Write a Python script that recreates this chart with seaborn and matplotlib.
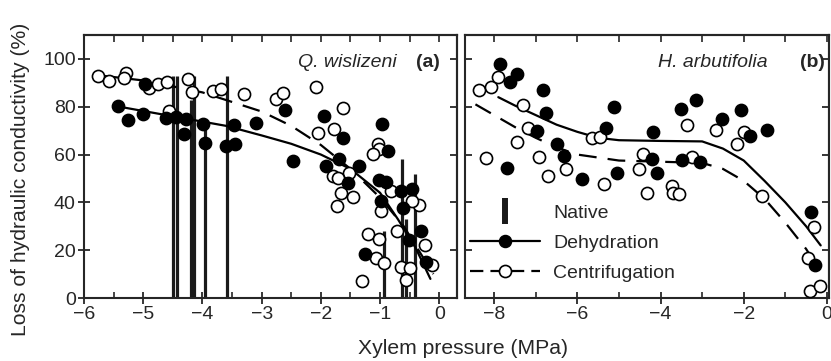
import matplotlib
matplotlib.use("Agg")
import matplotlib.pyplot as plt
from matplotlib.lines import Line2D
from matplotlib.ticker import MultipleLocator, NullFormatter
import seaborn as sns

# ---------------- data ----------------
# Q. wislizeni (a)
qw_dehy_x = [-5.42, -5.25, -5.01, -4.97, -4.61, -4.44, -4.28, -4.31, -3.99, -3.95, -3.60, -3.45,
             -3.47, -3.09, -2.60, -2.47, -1.95, -1.62, -1.92, -1.69, -1.35, -0.96, -0.87, -1.55,
             -1.02, -0.90, -0.98, -0.61, -0.46, -0.65, -0.31, -0.51, -1.25, -0.23]
qw_dehy_y = [80.4, 74.4, 76.8, 89.5, 75.1, 75.9, 74.8, 68.5, 72.9, 65.0, 63.6, 64.3,
             72.3, 73.4, 78.7, 57.3, 76.2, 67.1, 55.2, 58.0, 55.2, 72.7, 61.5, 48.2,
             49.3, 48.5, 40.5, 37.7, 45.7, 44.7, 27.9, 24.4, 18.3, 14.9]
qw_cent_x = [-5.76, -5.57, -5.29, -5.33, -4.90, -4.75, -4.60, -4.56, -4.25, -4.17, -3.82, -3.68,
             -3.29, -2.75, -2.64, -2.09, -1.62, -2.05, -1.77, -1.04, -1.01, -1.12, -1.80, -1.53,
             -1.71, -1.66, -1.73, -1.45, -0.81, -0.98, -0.34, -0.46, -1.21, -1.01, -1.07, -0.94,
             -1.30, -0.72, -0.65, -0.49, -0.56, -0.24, -0.12]
qw_cent_y = [93.0, 90.9, 94.1, 91.9, 87.7, 89.5, 90.2, 78.3, 91.6, 86.3, 86.7, 87.4,
             85.3, 83.2, 85.7, 88.1, 79.3, 68.9, 70.6, 64.3, 62.2, 60.1, 51.0, 52.1,
             50.3, 44.0, 38.4, 42.3, 44.8, 36.3, 39.1, 40.5, 26.9, 24.6, 16.9, 14.6,
             7.3, 28.2, 12.9, 12.5, 7.6, 22.3, 13.9]
qw_nat_x = [-4.50, -4.43, -4.20, -4.14, -3.95, -3.58, -0.93, -0.63, -0.57, -0.41]
qw_nat_y = [93, 93, 83, 93, 72, 93, 28, 58, 33, 52]
qw_dehy_fit_x = [-5.4, -4.5, -3.6, -3.0, -2.5, -2.0, -1.5, -1.0, -0.7, -0.4, -0.15]
qw_dehy_fit_y = [80, 76, 72, 68, 64.5, 60, 54, 44, 33, 21, 8]
qw_cent_fit_x = [-5.7, -5.0, -4.5, -4.0, -3.5, -3.0, -2.5, -2.0, -1.5, -1.0, -0.6, -0.3, -0.1]
qw_cent_fit_y = [93, 91, 88.5, 86, 82, 78, 72, 64, 54, 42, 30, 18, 10]

# H. arbutifolia (b)
ha_dehy_x = [-7.87, -7.62, -7.44, -6.83, -6.75, -5.13, -5.32, -6.97, -6.49, -6.31, -7.70, -5.89,
             -5.04, -4.17, -4.21, -4.09, -3.51, -3.15, -2.53, -2.07, -1.85, -1.45, -3.49, -3.05,
             -0.39, -0.29]
ha_dehy_y = [97.9, 90.2, 93.7, 87.1, 77.3, 79.7, 71.0, 69.9, 64.6, 59.4, 54.5, 49.6,
             52.1, 69.5, 58.3, 52.4, 79.0, 82.8, 74.8, 78.6, 67.8, 70.2, 57.6, 56.9,
             35.9, 13.9]
ha_cent_x = [-8.36, -8.08, -7.90, -7.30, -7.18, -7.44, -8.19, -6.91, -6.71, -6.28, -5.64, -5.45,
             -5.35, -4.43, -4.51, -4.32, -3.37, -2.67, -2.00, -2.17, -3.25, -3.73, -3.70, -3.55,
             -1.55, -0.31, -0.45, -0.41, -0.17]
ha_cent_y = [87.1, 88.1, 92.6, 80.7, 70.9, 65.3, 58.7, 58.9, 51.0, 53.8, 67.1, 67.5,
             47.5, 60.4, 54.1, 44.0, 72.3, 70.3, 69.5, 64.3, 59.1, 46.8, 44.0, 43.3,
             42.6, 29.7, 16.7, 3.1, 5.2]
ha_dehy_fit_x = [-7.9, -7.5, -7.0, -6.5, -6.0, -5.5, -5.0, -4.0, -3.0, -2.5, -2.0, -1.5, -1.0, -0.5, -0.15]
ha_dehy_fit_y = [84, 80.5, 76.5, 72.5, 69.5, 67, 66, 65.7, 65.5, 62.5, 57.5, 49, 40, 30, 22]
ha_cent_fit_x = [-8.45, -8.0, -7.5, -7.0, -6.5, -6.0, -5.0, -4.0, -3.0, -2.5, -2.0, -1.5, -1.0, -0.5, -0.3]
ha_cent_fit_y = [81, 76.5, 71.5, 67, 63, 60, 57.5, 57, 56.5, 54, 49, 41.5, 31.5, 20.5, 15]

panel_titles = ["Q. wislizeni", "H. arbutifolia"]
panel_letters = ["(a)", "(b)"]
legend_labels = ["Native", "Dehydration", "Centrifugation"]
xlabel = "Xylem pressure (MPa)"
ylabel = "Loss of hydraulic conductivity (%)"

# ---------------- style ----------------
sns.set_style("ticks")
plt.rcParams["font.family"] = ["Liberation Sans", "DejaVu Sans"]
plt.rcParams["axes.linewidth"] = 1.5
FS = 14
FSL = 15.2

fig = plt.figure(figsize=(8.31, 3.61), dpi=100)
axL = fig.add_axes([0.1011, 0.1745, 0.4489, 0.7285])
axR = fig.add_axes([0.5596, 0.1745, 0.4380, 0.7285])

DASH = (0, (8, 5))
MS = 76
EW = 1.2


def draw_panel(ax, dx, dy, cx, cy, nx, ny, dfx, dfy, cfx, cfy):
    if nx:
        ax.vlines(nx, 0, ny, color="#1a1a1a", lw=2.3, zorder=2)
    sns.lineplot(x=dfx, y=dfy, ax=ax, color="black", lw=1.6, sort=False,
                 estimator=None, zorder=3)
    sns.lineplot(x=cfx, y=cfy, ax=ax, color="black", lw=1.6, sort=False,
                 estimator=None, linestyle=DASH, zorder=3)
    sns.scatterplot(x=cx, y=cy, ax=ax, color="white", edgecolor="black",
                    linewidth=EW, s=MS, zorder=4)
    sns.scatterplot(x=dx, y=dy, ax=ax, color="black", edgecolor="black",
                    linewidth=EW, s=MS, zorder=4)


draw_panel(axL, qw_dehy_x, qw_dehy_y, qw_cent_x, qw_cent_y, qw_nat_x, qw_nat_y,
           qw_dehy_fit_x, qw_dehy_fit_y, qw_cent_fit_x, qw_cent_fit_y)
draw_panel(axR, ha_dehy_x, ha_dehy_y, ha_cent_x, ha_cent_y, [], [],
           ha_dehy_fit_x, ha_dehy_fit_y, ha_cent_fit_x, ha_cent_fit_y)

# ---------------- axes ----------------
for ax in (axL, axR):
    ax.set_ylim(0, 110)
    ax.set_xlabel("")
    ax.set_ylabel("")
    for s in ax.spines.values():
        s.set_visible(True)
        s.set_linewidth(1.5)
    ax.set_yticks([0, 20, 40, 60, 80, 100])

axL.set_xlim(-6, 0.3)
axL.xaxis.set_major_locator(MultipleLocator(1))
axL.xaxis.set_minor_locator(MultipleLocator(0.5))
axR.set_xlim(-8.7, 0.05)
axR.xaxis.set_major_locator(MultipleLocator(2))
axR.xaxis.set_minor_locator(MultipleLocator(1))

for ax in (axL, axR):
    ax.tick_params(axis="x", which="major", direction="inout", length=9, width=1.3,
                   labelsize=FS, pad=1, top=False)
    ax.tick_params(axis="x", which="minor", direction="in", length=4, width=1.2, top=False)
    ax.xaxis.set_major_formatter(plt.FuncFormatter(lambda v, p: f"{v:g}".replace("-", "\u2212")))

axL.tick_params(axis="y", which="major", direction="inout", length=9, width=1.3,
                labelsize=FS, pad=1.5, right=False)
axR.tick_params(axis="y", which="major", direction="in", length=5, width=1.3,
                labelleft=False, right=False)

# top and right inward ticks
for ax, step in ((axL, 0.5), (axR, 1.0)):
    top = ax.secondary_xaxis("top")
    top.xaxis.set_major_locator(MultipleLocator(step))
    top.tick_params(direction="in", length=5, width=1.2, labeltop=False)
    top.xaxis.set_major_formatter(NullFormatter())
    top.spines["top"].set_linewidth(1.5)
    rt = ax.secondary_yaxis("right")
    rt.set_yticks([0, 20, 40, 60, 80, 100])
    rt.tick_params(direction="in", length=5, width=1.3, labelright=False)
    rt.yaxis.set_major_formatter(NullFormatter())
    rt.spines["right"].set_linewidth(1.5)

# panel titles
axL.text(0.839, 0.897, panel_titles[0], transform=axL.transAxes, ha="right", va="center",
         fontsize=FS, style="italic")
axL.text(0.954, 0.897, panel_letters[0], transform=axL.transAxes, ha="right", va="center",
         fontsize=FS, fontweight="bold")
axR.text(0.830, 0.897, panel_titles[1], transform=axR.transAxes, ha="right", va="center",
         fontsize=FS, style="italic")
axR.text(0.989, 0.897, panel_letters[1], transform=axR.transAxes, ha="right", va="center",
         fontsize=FS, fontweight="bold")

# labels
axL.set_ylabel(ylabel, fontsize=FSL)
axL.yaxis.set_label_coords(-0.145, 0.45)
fig.text(0.557, 0.036, xlabel, ha="center", va="center", fontsize=FSL)

# legend
handles = [
    Line2D([], [], color="#1a1a1a", lw=0, marker="|", markersize=19, mew=4.3),
    Line2D([], [], color="black", lw=1.6, marker="o", markersize=8.7,
           markerfacecolor="black", markeredgecolor="black"),
    Line2D([], [], color="black", lw=1.6, linestyle=(0, (6, 3.2)), marker="o", markersize=8.7,
           markerfacecolor="white", markeredgecolor="black", markeredgewidth=EW),
]
axR.legend(handles, legend_labels, loc="center left", bbox_to_anchor=(0.013, 0.209),
           frameon=False, fontsize=FS, handlelength=3.6, handletextpad=0.7,
           labelspacing=0.62, borderpad=0, borderaxespad=0)

fig.savefig("out.png", dpi=100)
